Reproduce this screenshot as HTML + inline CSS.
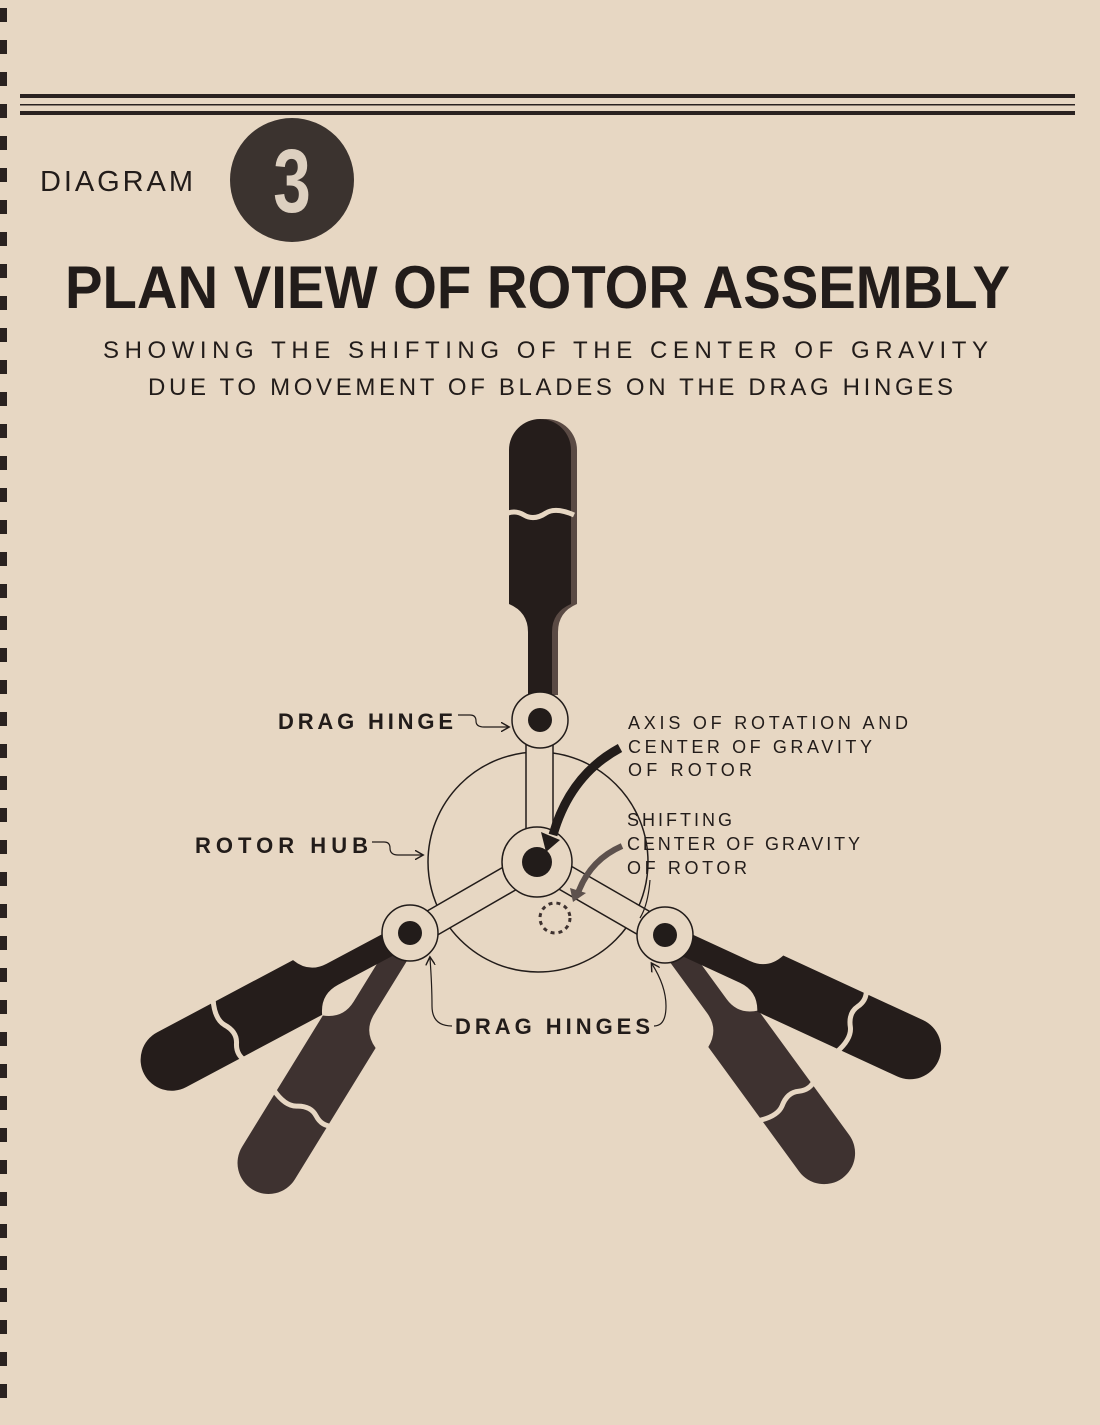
<!DOCTYPE html>
<html><head><meta charset="utf-8"><style>
html,body{margin:0;padding:0;background:#e7d7c3;}
svg{display:block}
text{font-family:"Liberation Sans",sans-serif;fill:#221c1a}
</style></head><body>
<svg width="1100" height="1425" viewBox="0 0 1100 1425" xmlns="http://www.w3.org/2000/svg">
<defs>
<path id="blade" d="M25,-12 L88,-12 Q108,-12 116,-31 L270,-31 A31,31 0 0 1 270,31 L116,31 Q108,12 88,12 L25,12 Z"/>
<path id="brk" d="M205,-36 q6,10 0,20 q-6,10 2,22 q6,10 -2,28" fill="none" stroke="#e7d7c3" stroke-width="5"/>
<marker id="ah" markerWidth="8" markerHeight="8" refX="6" refY="4" orient="auto"><path d="M0,0 L7,4 L0,8" fill="none" stroke="#221c1a" stroke-width="1.2"/></marker>
</defs>
<rect width="1100" height="1425" fill="#e7d7c3"/>
<g fill="#2a2220">
<rect x="0" y="8" width="7" height="14"/><rect x="0" y="40" width="7" height="14"/><rect x="0" y="72" width="7" height="14"/><rect x="0" y="104" width="7" height="14"/><rect x="0" y="136" width="7" height="14"/><rect x="0" y="168" width="7" height="14"/><rect x="0" y="200" width="7" height="14"/><rect x="0" y="232" width="7" height="14"/><rect x="0" y="264" width="7" height="14"/><rect x="0" y="296" width="7" height="14"/><rect x="0" y="328" width="7" height="14"/><rect x="0" y="360" width="7" height="14"/><rect x="0" y="392" width="7" height="14"/><rect x="0" y="424" width="7" height="14"/><rect x="0" y="456" width="7" height="14"/><rect x="0" y="488" width="7" height="14"/><rect x="0" y="520" width="7" height="14"/><rect x="0" y="552" width="7" height="14"/><rect x="0" y="584" width="7" height="14"/><rect x="0" y="616" width="7" height="14"/><rect x="0" y="648" width="7" height="14"/><rect x="0" y="680" width="7" height="14"/><rect x="0" y="712" width="7" height="14"/><rect x="0" y="744" width="7" height="14"/><rect x="0" y="776" width="7" height="14"/><rect x="0" y="808" width="7" height="14"/><rect x="0" y="840" width="7" height="14"/><rect x="0" y="872" width="7" height="14"/><rect x="0" y="904" width="7" height="14"/><rect x="0" y="936" width="7" height="14"/><rect x="0" y="968" width="7" height="14"/><rect x="0" y="1000" width="7" height="14"/><rect x="0" y="1032" width="7" height="14"/><rect x="0" y="1064" width="7" height="14"/><rect x="0" y="1096" width="7" height="14"/><rect x="0" y="1128" width="7" height="14"/><rect x="0" y="1160" width="7" height="14"/><rect x="0" y="1192" width="7" height="14"/><rect x="0" y="1224" width="7" height="14"/><rect x="0" y="1256" width="7" height="14"/><rect x="0" y="1288" width="7" height="14"/><rect x="0" y="1320" width="7" height="14"/><rect x="0" y="1352" width="7" height="14"/><rect x="0" y="1384" width="7" height="14"/>
</g>
<rect x="20" y="94" width="1055" height="4" fill="#2a2220"/>
<rect x="20" y="104" width="1055" height="1.5" fill="#2a2220"/>
<rect x="20" y="111" width="1055" height="4" fill="#2a2220"/>
<text x="40" y="191" font-size="29" textLength="153" lengthAdjust="spacing">DIAGRAM</text>
<circle cx="292" cy="180" r="62" fill="#3b332f"/>
<text x="292" y="212" font-size="90" font-weight="bold" text-anchor="middle" style="fill:#ddd0c0" transform="translate(292 180) scale(0.75 1) translate(-292 -180)">3</text>
<text x="65" y="308" font-size="60" font-weight="bold" textLength="945" lengthAdjust="spacingAndGlyphs">PLAN VIEW OF ROTOR ASSEMBLY</text>
<text x="103" y="358" font-size="24" textLength="885" lengthAdjust="spacing">SHOWING  THE  SHIFTING  OF THE  CENTER  OF  GRAVITY</text>
<text x="148" y="395" font-size="24" textLength="805" lengthAdjust="spacing">DUE TO MOVEMENT OF BLADES ON THE DRAG HINGES</text>
<g transform="translate(410 933) rotate(121.6)" fill="#3e3230"><use href="#blade"/><use href="#brk"/></g>
<g transform="translate(410 933) rotate(152)" fill="#251d1b"><use href="#blade"/><use href="#brk"/></g>
<g transform="translate(665 935) rotate(53.9)" fill="#3e3230"><use href="#blade"/><use href="#brk"/></g>
<g transform="translate(665 935) rotate(24.8)" fill="#251d1b"><use href="#blade"/><use href="#brk"/></g>
<g transform="translate(546 720) rotate(-90)" fill="#5a4a44"><use href="#blade"/></g>
<g transform="translate(540 720) rotate(-90)" fill="#251d1b"><use href="#blade"/><use href="#brk"/></g>
<circle cx="538" cy="862" r="110" fill="none" stroke="#221c1a" stroke-width="1.5"/>
<g fill="#e7d7c3" stroke="#221c1a" stroke-width="1.5">
<rect x="526" y="740" width="27" height="100"/>
<g transform="translate(538 862) rotate(150)"><rect x="20" y="-13" width="120" height="26"/></g>
<g transform="translate(538 862) rotate(30)"><rect x="20" y="-13" width="120" height="26"/></g>
<circle cx="540" cy="720" r="28"/>
<circle cx="537" cy="862" r="35"/>
<circle cx="410" cy="933" r="28"/>
<circle cx="665" cy="935" r="28"/>
</g>
<g fill="#221c1a">
<circle cx="540" cy="720" r="12"/><circle cx="537" cy="862" r="15"/><circle cx="410" cy="933" r="12"/><circle cx="665" cy="935" r="12"/>
</g>
<circle cx="555" cy="918" r="15" fill="none" stroke="#3e3230" stroke-width="3" stroke-dasharray="4 4"/>
<path d="M620,748 Q570,775 553,835" fill="none" stroke="#221c1a" stroke-width="9"/>
<path d="M541,832 L560,840 L546,852 Z" fill="#221c1a"/>
<path d="M622,846 Q590,860 578,893" fill="none" stroke="#5d514d" stroke-width="6"/>
<path d="M570,888 L586,893 L573,902 Z" fill="#5d514d"/>
<text x="278" y="729" font-size="22" font-weight="bold" textLength="175" lengthAdjust="spacing">DRAG HINGE</text>
<path d="M458,715 h12 q6,0 6,6 q0,6 8,6 h24" fill="none" stroke="#221c1a" stroke-width="1.2" marker-end="url(#ah)"/>
<text x="195" y="853" font-size="22" font-weight="bold" textLength="173" lengthAdjust="spacing">ROTOR HUB</text>
<path d="M372,842 h12 q6,0 6,6 q0,7 8,7 h24" fill="none" stroke="#221c1a" stroke-width="1.2" marker-end="url(#ah)"/>
<text x="628" y="729" font-size="18" textLength="280" lengthAdjust="spacing">AXIS OF ROTATION AND</text>
<text x="628" y="753" font-size="18" textLength="244" lengthAdjust="spacing">CENTER OF GRAVITY</text>
<text x="628" y="776" font-size="18" textLength="124" lengthAdjust="spacing">OF ROTOR</text>
<text x="627" y="826" font-size="18" textLength="105" lengthAdjust="spacing">SHIFTING</text>
<text x="627" y="850" font-size="18" textLength="233" lengthAdjust="spacing">CENTER OF  GRAVITY</text>
<text x="627" y="874" font-size="18" textLength="120" lengthAdjust="spacing">OF ROTOR</text>
<path d="M650,880 q-2,25 -10,38" fill="none" stroke="#221c1a" stroke-width="1.2"/>
<text x="455" y="1034" font-size="22" font-weight="bold" textLength="195" lengthAdjust="spacing">DRAG HINGES</text>
<path d="M452,1026 q-20,0 -20,-20 q0,-20 -2,-48" fill="none" stroke="#221c1a" stroke-width="1.2" marker-end="url(#ah)"/>
<path d="M654,1026 q12,0 12,-20 q0,-20 -14,-42" fill="none" stroke="#221c1a" stroke-width="1.2" marker-end="url(#ah)"/>
</svg>
</body></html>
